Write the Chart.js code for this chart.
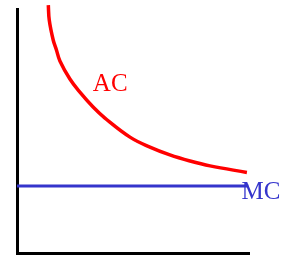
<!DOCTYPE html>
<html>
<head>
<meta charset="utf-8">
<script src="https://cdn.jsdelivr.net/npm/chart.js@4"></script>
<style>
  html, body { margin: 0; padding: 0; background: #fff; }
  #wrap { width: 291px; height: 257px; position: relative; }
</style>
</head>
<body>
<div id="wrap"><canvas id="chartCost"></canvas></div>
<script>
// quantity / cost values
var acQ = [1.35, 1.39, 1.56, 1.70, 1.85, 2.28, 2.72, 3.28, 3.79, 4.87, 5.73, 6.59, 7.46, 8.32, 9.91];
var acC = [10.16, 9.55, 8.73, 8.32, 7.87, 7.13, 6.58, 5.98, 5.53, 4.75, 4.34, 4.02, 3.77, 3.57, 3.30];
var mcQ = [0, 9.97];
var mcC = [2.75, 2.75];

// curve labels
var labelText = ['AC', 'MC'];
var labelQ = [3.27, 9.68];
var labelC = [6.65, 2.2];
var labelColor = ['#ff0000', '#3535cc'];

function toPoints(xs, ys) {
  return xs.map(function (x, i) { return {x: x, y: ys[i]}; });
}

// write the curve names next to the lines
var curveLabels = {
  id: 'curveLabels',
  afterDatasetsDraw: function (chart) {
    var ctx = chart.ctx;
    var sx = chart.scales.x, sy = chart.scales.y;
    ctx.save();
    ctx.font = '25px "Liberation Serif", "Times New Roman", serif';
    ctx.textAlign = 'left';
    ctx.textBaseline = 'alphabetic';
    labelText.forEach(function (t, i) {
      ctx.fillStyle = labelColor[i];
      ctx.fillText(t, sx.getPixelForValue(labelQ[i]), sy.getPixelForValue(labelC[i]));
    });
    ctx.restore();
  }
};

var axisOpts = function () {
  return {
    type: 'linear',
    min: 0,
    max: 10,
    ticks: { display: false },
    grid: { display: false, drawTicks: false },
    border: { display: true, color: '#000', width: 3 }
  };
};

const chartCost = document.getElementById('chartCost');

new Chart(chartCost, {
  type: 'line',
  data: {
    datasets: [{
      label: 'AC',
      data: toPoints(acQ, acC),
      borderColor: '#ff0000',
      borderWidth: 3.5,
      tension: 0.4,
      pointRadius: 0,
      fill: false,
      clip: false
    }, {
      label: 'MC',
      data: toPoints(mcQ, mcC),
      borderColor: '#3535cc',
      borderWidth: 3,
      pointRadius: 0,
      fill: false
    }]
  },
  options: {
    responsive: true,
    maintainAspectRatio: false,
    animation: false,
    layout: { padding: { left: 17, top: 9, right: 42, bottom: 4 } },
    plugins: {
      legend: { display: false },
      tooltip: { enabled: false }
    },
    scales: {
      x: axisOpts(),
      y: axisOpts()
    }
  },
  plugins: [curveLabels]
});
</script>
</body>
</html>
